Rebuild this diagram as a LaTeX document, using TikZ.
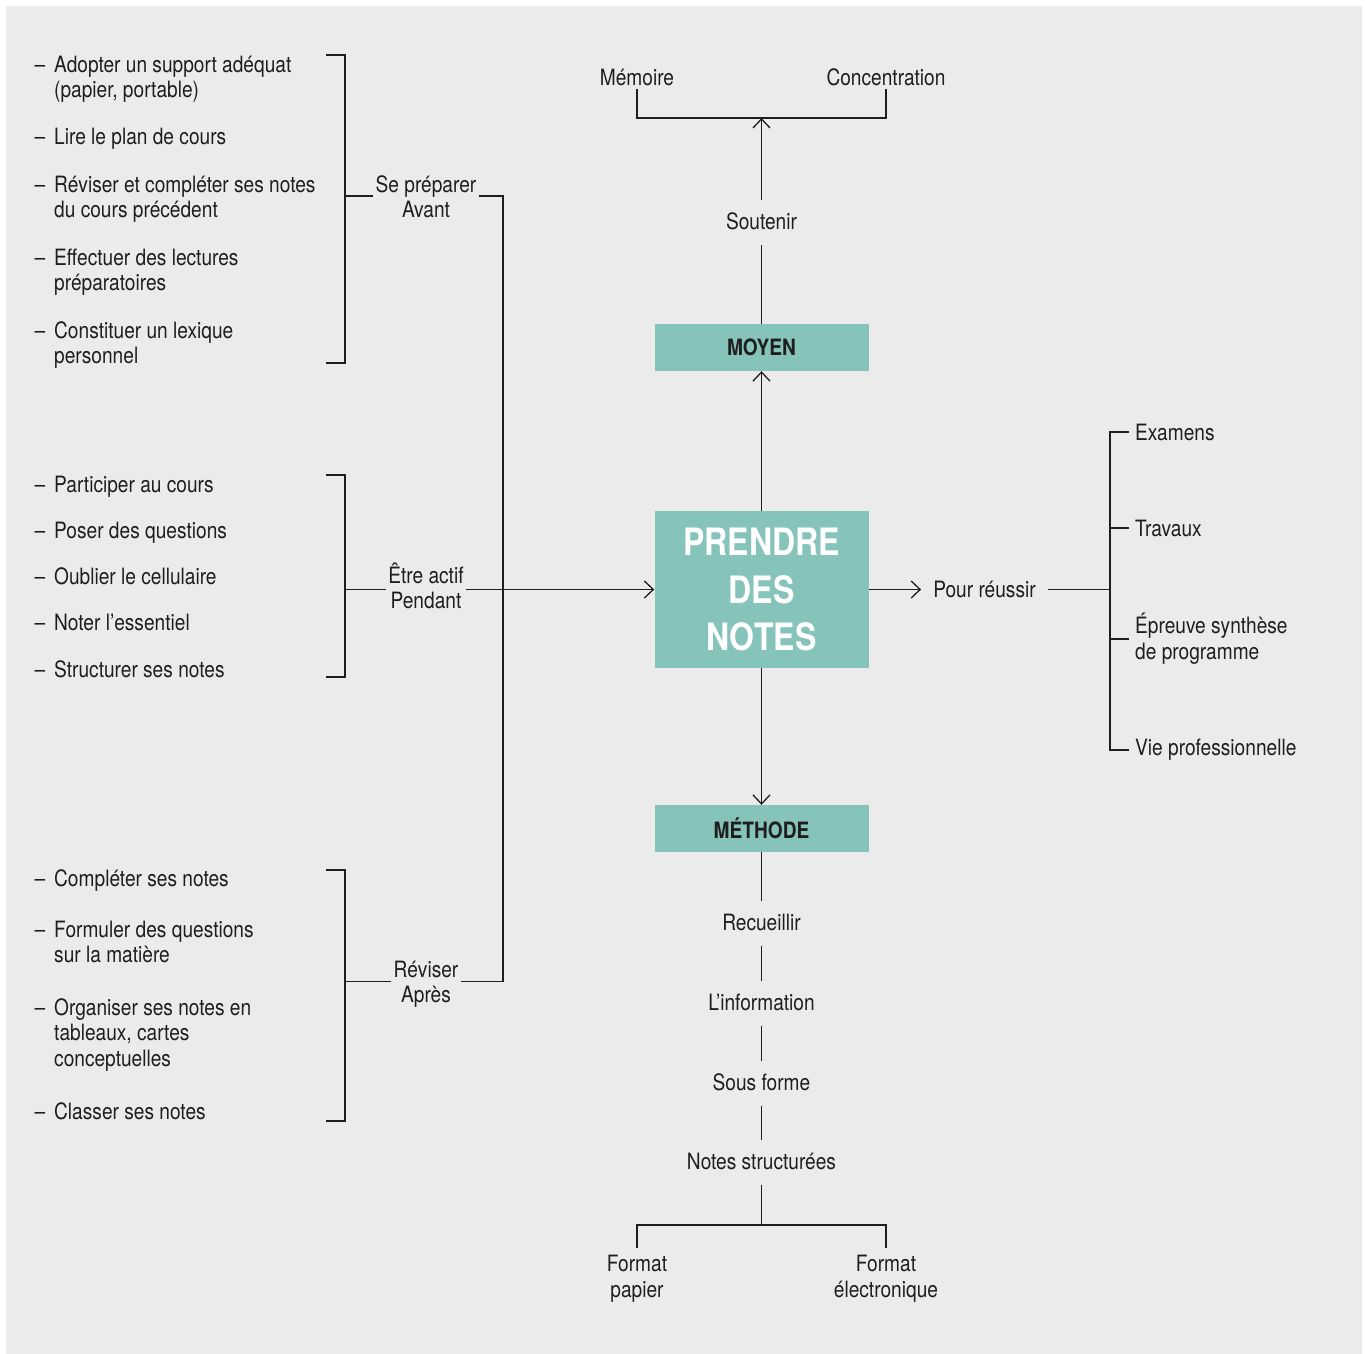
\documentclass[tikz,border=0pt]{standalone}
\usepackage{fontspec}
\setmainfont[FakeStretch=0.85]{TeX Gyre Heros}
\usetikzlibrary{arrows.meta}
\definecolor{bgc}{HTML}{EBEBEB}
\definecolor{boxteal}{HTML}{86C4BB}
\definecolor{ink}{HTML}{1E1E1E}
% multi-line text whose baseline is the first line
\newcommand\stackl[1]{\vtop{\halign{##\hfil\cr#1\crcr}}}
\newcommand\stackc[1]{\vtop{\halign{\hfil##\hfil\cr#1\crcr}}}
\newcommand\dashmark{\llap{–\hspace{9pt}}}
\begin{document}
\begin{tikzpicture}[x=1pt,y=-1pt,
  txt/.style={font=\fontsize{22.5pt}{25.8pt}\selectfont, text=ink, inner sep=0pt},
  listitem/.style={txt, anchor=base west},
  grp/.style={txt, anchor=base, inner xsep=2.5pt},
  vt/.style={txt, text height=17pt, text depth=3pt, inner ysep=12pt},
  ritem/.style={txt, anchor=west, inner xsep=6pt},
  topl/.style={txt, anchor=base, inner ysep=3pt},
  fmt/.style={txt, anchor=base, inner ysep=7pt},
  box/.style={fill=boxteal, inner sep=0pt, minimum width=214pt},
  lbl/.style={box, minimum height=47pt, font=\fontsize{22.5pt}{26pt}\selectfont\bfseries, text=ink},
  ln/.style={draw=ink, line width=1.3pt},
  arr/.style={ln, -{Straight Barb[length=9pt,width=17pt]}}]
\path[use as bounding box] (0,0) rectangle (1365,1354);
\fill[bgc] (6,6) rectangle (1362,1354);

% central column
\node[box, minimum height=157pt, align=center, text=white,
      font=\fontsize{37.7pt}{47.5pt}\selectfont\bfseries] (main) at (761.5,589.5) {PRENDRE\\DES\\NOTES};
\node[lbl] (moyen) at (761.5,347.5) {MOYEN};
\node[lbl] (meth) at (761.5,828.5) {MÉTHODE};

% upper branch
\node[vt] (sout) at (761.5,222.5) {Soutenir};
\node[topl] (mem) at (637,85) {Mémoire};
\node[topl] (con) at (886,85) {Concentration};
\coordinate (th) at (761.5,118);
\draw[arr] (main) -- (moyen);
\draw[ln] (moyen) -- (sout);
\draw[arr] (sout) -- (th);
\draw[ln] (mem.south) |- (th) -| (con.south);

% lower branch
\node[vt] (rec) at (761.5,923.5) {Recueillir};
\node[vt] (info) at (761.5,1003.5) {L’information};
\node[vt] (sous) at (761.5,1083.5) {Sous forme};
\node[vt] (ns) at (761.5,1162.5) {Notes structurées};
\node[fmt] (fp) at (637,1271.7) {\stackc{Format\cr papier}};
\node[fmt] (fe) at (886,1271.7) {\stackc{Format\cr électronique}};
\coordinate (bh) at (761.5,1225);
\draw[arr] (main) -- (meth);
\draw[ln] (meth) -- (rec);
\draw[ln] (rec) -- (info);
\draw[ln] (info) -- (sous);
\draw[ln] (sous) -- (ns);
\draw[ln] (ns) -- (bh);
\draw[ln] (fp.north) |- (bh) -| (fe.north);

% right branch
\node[txt, inner xsep=12pt] (pour) at (984.5,589.5) {Pour réussir};
\node[ritem] (ex) at (1129,432) {Examens};
\node[ritem] (tr) at (1129,528) {Travaux};
\node[ritem] (ep) at (1129,639) {\stackl{Épreuve synthèse\cr de programme}};
\node[ritem] (vie) at (1129,750) {Vie professionnelle};
\coordinate (rs) at (1110,589.5);
\draw[arr] (main) -- (pour);
\draw[ln] (pour) -- (rs);
\draw[ln] (ex.west) -| (rs);
\draw[ln] (vie.west) -| (rs);
\draw[ln] (tr.west) -- (tr.west -| rs);
\draw[ln] (ep.west) -- (ep.west -| rs);

% left lists
\node[listitem] (l1) at (54,72) {\stackl{\dashmark Adopter un support adéquat\cr (papier, portable)}};
\node[listitem] (l2) at (54,144.5) {\dashmark Lire le plan de cours};
\node[listitem] (l3) at (54,192) {\stackl{\dashmark Réviser et compléter ses notes\cr du cours précédent}};
\node[listitem] (l4) at (54,265) {\stackl{\dashmark Effectuer des lectures\cr préparatoires}};
\node[listitem] (l5) at (54,338) {\stackl{\dashmark Constituer un lexique\cr personnel}};

\node[listitem] (m1) at (54,492) {\dashmark Participer au cours};
\node[listitem] (m2) at (54,538) {\dashmark Poser des questions};
\node[listitem] (m3) at (54,584) {\dashmark Oublier le cellulaire};
\node[listitem] (m4) at (54,630) {\dashmark Noter l’essentiel};
\node[listitem] (m5) at (54,677) {\dashmark Structurer ses notes};

\node[listitem] (n1) at (54,886) {\dashmark Compléter ses notes};
\node[listitem] (n2) at (54,937) {\stackl{\dashmark Formuler des questions\cr sur la matière}};
\node[listitem] (n3) at (54,1015) {\stackl{\dashmark Organiser ses notes en\cr tableaux, cartes\cr conceptuelles}};
\node[listitem] (n4) at (54,1119) {\dashmark Classer ses notes};

% group labels
\node[grp] (g1) at (426,192) {\stackc{Se préparer\cr Avant}};
\node[grp] (g2) at (426,583) {\stackc{Être actif\cr Pendant}};
\node[grp] (g3) at (426,977) {\stackc{Réviser\cr Après}};

% brackets
\coordinate (b1t) at (345,55);  \coordinate (b1b) at (345,363);  \coordinate (b1m) at (345,196);
\coordinate (b2t) at (345,475); \coordinate (b2b) at (345,677);  \coordinate (b2m) at (345,589.5);
\coordinate (b3t) at (345,870); \coordinate (b3b) at (345,1121); \coordinate (b3m) at (345,981.5);
\draw[ln] ([xshift=-19pt]b1t) -- (b1t) -- (b1b) -- ([xshift=-19pt]b1b);
\draw[ln] ([xshift=-19pt]b2t) -- (b2t) -- (b2b) -- ([xshift=-19pt]b2b);
\draw[ln] ([xshift=-19pt]b3t) -- (b3t) -- (b3b) -- ([xshift=-19pt]b3b);
\draw[ln] (b1m) -- (b1m -| g1.west);
\draw[ln] (b2m) -- (b2m -| g2.west);
\draw[ln] (b3m) -- (b3m -| g3.west);

% collector line to the central box
\coordinate (vx1) at (503,196);
\coordinate (vx3) at (503,981.5);
\draw[ln] (g1.east |- b1m) -- (vx1) -- (vx3) -- (g3.east |- b3m);
\draw[arr] (g2.east |- b2m) -- (main.west |- b2m);
\end{tikzpicture}
\end{document}
